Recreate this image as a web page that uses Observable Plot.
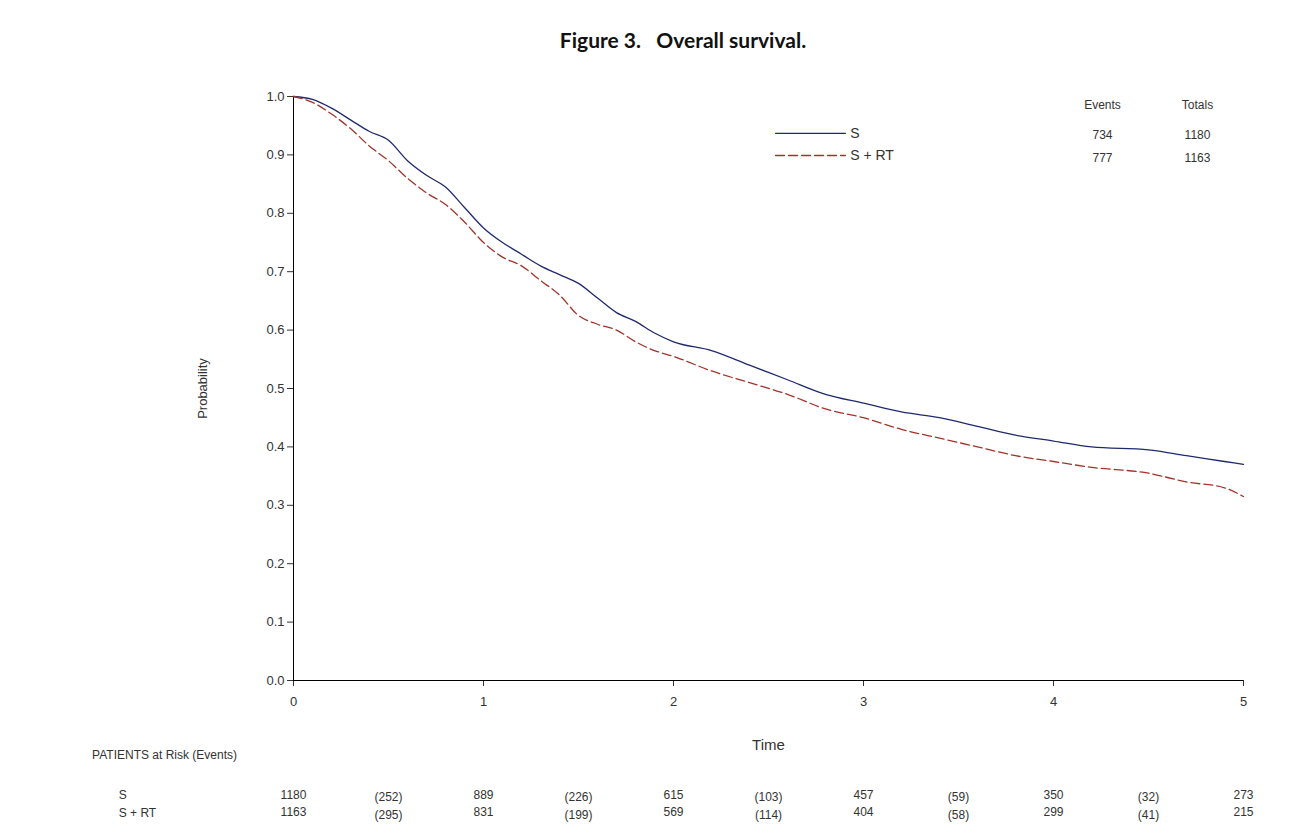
<!DOCTYPE html><html><head><meta charset="utf-8">
<script src="https://cdn.jsdelivr.net/npm/d3@7"></script>
<script src="https://cdn.jsdelivr.net/npm/@observablehq/plot@0.6"></script>
<style>body{margin:0;background:#fff}</style></head><body><div id="c"></div>
<script>
const times = [0,0.1,0.2,0.3,0.4,0.5,0.6,0.7,0.8,0.9,1.0,1.1,1.2,1.3,1.4,1.5,1.6,1.7,1.8,1.9,2.0,2.2,2.4,2.6,2.8,3.0,3.2,3.4,3.6,3.8,4.0,4.2,4.5,4.7,4.9,5.0];
const survS  = [1,0.995,0.98,0.96,0.94,0.925,0.89,0.865,0.845,0.81,0.775,0.75,0.73,0.71,0.695,0.68,0.655,0.63,0.615,0.595,0.58,0.565,0.54,0.515,0.49,0.475,0.46,0.45,0.435,0.42,0.41,0.40,0.395,0.385,0.375,0.37];
const survRT = [1,0.99,0.97,0.945,0.915,0.89,0.86,0.835,0.815,0.785,0.75,0.725,0.71,0.685,0.66,0.625,0.61,0.6,0.58,0.565,0.555,0.53,0.51,0.49,0.465,0.45,0.43,0.415,0.4,0.385,0.375,0.365,0.355,0.34,0.33,0.315];
const riskTimes = [0,0.5,1,1.5,2,2.5,3,3.5,4,4.5,5];
const riskS  = ["1180","(252)","889","(226)","615","(103)","457","(59)","350","(32)","273"];
const riskRT = ["1163","(295)","831","(199)","569","(114)","404","(58)","299","(41)","215"];
const groups = ["S","S + RT"];
const events = ["734","777"];
const totals = ["1180","1163"];

const dS = times.map((t,i)=>({t,v:survS[i]}));
const dR = times.map((t,i)=>({t,v:survRT[i]}));
const rS = riskTimes.map((t,i)=>({t,l:riskS[i]}));
const rR = riskTimes.map((t,i)=>({t,l:riskRT[i]}));
const cS="#1f2a6e", cR="#a0342a", tc="#333";
const plot = Plot.plot({
  width:1308, height:840, marginTop:96, marginBottom:160, marginLeft:293, marginRight:65,
  style:{fontFamily:"Liberation Sans, Arial, sans-serif", fontSize:"13px", color:tc},
  x:{domain:[0,5], ticks:[0,1,2,3,4,5], tickFormat:"d", tickSize:6, tickPadding:10, label:null},
  y:{domain:[0,1], ticks:d3.range(0,1.01,0.1), tickFormat:".1f", tickSize:6, label:"Probability", labelAnchor:"center", labelArrow:"none", labelOffset:96},
  marks:[
    Plot.ruleX([0],{stroke:"#000"}),
    Plot.ruleY([0],{stroke:"#000"}),
    Plot.line(dS,{x:"t",y:"v",curve:"monotone-x",stroke:cS,strokeWidth:1.3}),
    Plot.line(dR,{x:"t",y:"v",curve:"monotone-x",stroke:cR,strokeWidth:1.3,strokeDasharray:"9,4"}),
    Plot.line([{x:2.537,y:0.937},{x:2.905,y:0.937}],{x:"x",y:"y",stroke:cS,strokeWidth:1.3,clip:false}),
    Plot.line([{x:2.537,y:0.899},{x:2.905,y:0.899}],{x:"x",y:"y",stroke:cR,strokeWidth:1.3,strokeDasharray:"9,4",clip:false}),
    Plot.text(groups,{x:2.93,y:[0.937,0.899],text:d=>d,textAnchor:"start",fontSize:14,fill:tc}),
    Plot.text(["Events","Totals"],{x:[4.258,4.758],y:0.985,text:d=>d,fontSize:12,fill:tc}),
    Plot.text(events,{x:4.258,y:[0.933,0.894],text:d=>d,fontSize:12,fill:tc}),
    Plot.text(totals,{x:4.758,y:[0.933,0.894],text:d=>d,fontSize:12,fill:tc}),
    Plot.text(["Figure 3.   Overall survival."],{x:2.05,y:1.094,text:d=>d,fontSize:21,fontWeight:"bold",fontFamily:"Lato, sans-serif",fill:"#111",clip:false}),
    Plot.text(["Time"],{x:2.5,y:-0.111,text:d=>d,fontSize:15,fill:tc}),
    Plot.text(["PATIENTS at Risk (Events)"],{x:-1.06,y:-0.127,text:d=>d,textAnchor:"start",fontSize:12,fill:tc}),
    Plot.text(groups,{x:-0.92,y:[-0.197,-0.228],text:d=>d,textAnchor:"start",fontSize:12,fill:tc}),
    Plot.text(rS,{x:"t",y:d=>d.l.startsWith("(")?-0.200:-0.197,text:"l",fontSize:12,fill:tc}),
    Plot.text(rR,{x:"t",y:d=>d.l.startsWith("(")?-0.231:-0.226,text:"l",fontSize:12,fill:tc})
  ]
});
document.getElementById("c").append(plot);
</script></body></html>
